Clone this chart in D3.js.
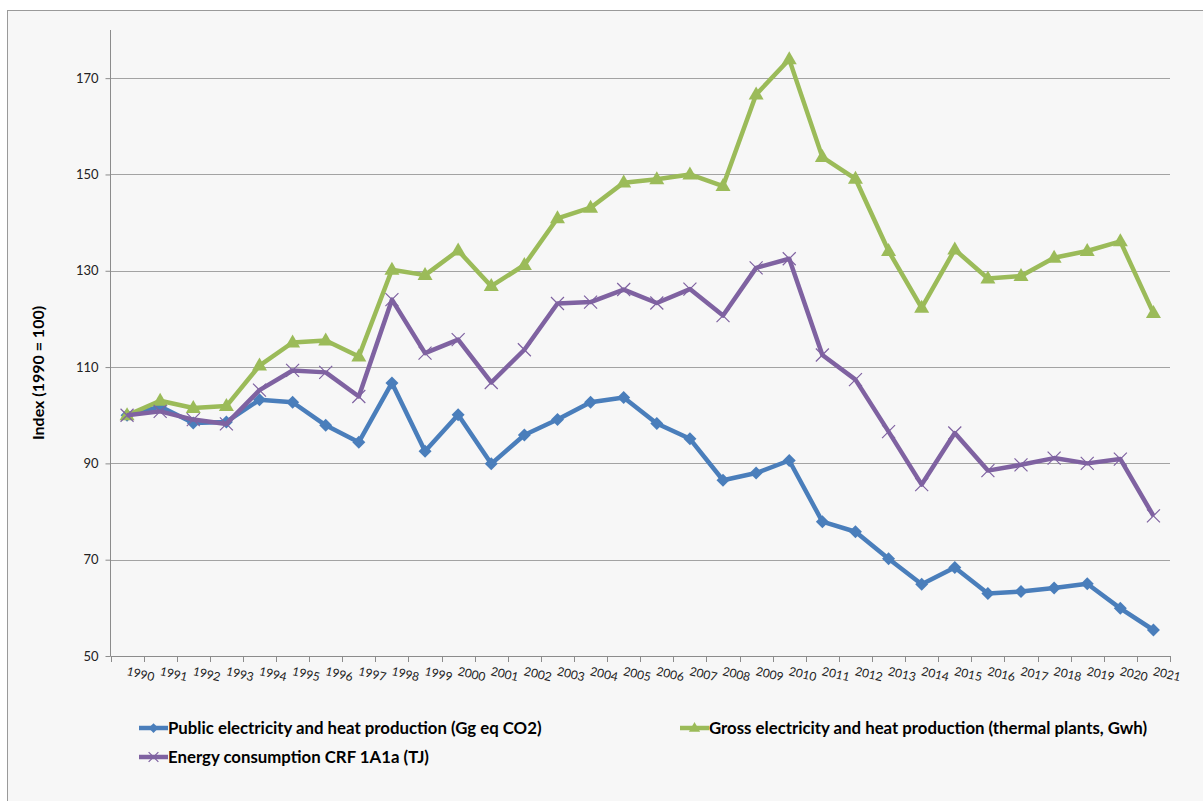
<!DOCTYPE html>
<html>
<head>
<meta charset="utf-8">
<script src="https://cdn.jsdelivr.net/npm/d3@7"></script>
<style>
  html, body { margin: 0; padding: 0; background: #ffffff; }
  svg { display: block; }
  text { font-family: Lato, "Liberation Sans", sans-serif; }
</style>
</head>
<body>
<svg id="chart" width="1203" height="801"></svg>
<script>
// Index values, 1990 = 100
const years = d3.range(1990, 2022).map(String);

const publicElectricity = [100, 101.8, 98.4, 98.6, 103.2, 102.7, 97.9, 94.4, 106.7, 92.5,
  100.1, 89.9, 95.9, 99.1, 102.7, 103.7, 98.3, 95.1, 86.5, 88.0,
  90.6, 77.9, 75.8, 70.2, 64.9, 68.4, 63.0, 63.4, 64.1, 65.0, 59.9, 55.4];

const grossProduction = [100, 103.0, 101.5, 101.9, 110.3, 115.1, 115.5, 112.2, 130.2, 129.1,
  134.2, 126.8, 131.2, 140.9, 143.1, 148.3, 149.0, 150.0, 147.6, 166.6,
  173.9, 153.6, 149.1, 134.1, 122.3, 134.4, 128.4, 128.9, 132.7, 134.1, 136.1, 121.2];

const energyConsumption = [100, 100.8, 99.1, 98.2, 105.2, 109.3, 108.9, 103.9, 124.0, 112.9,
  115.7, 106.8, 113.6, 123.2, 123.5, 126.1, 123.3, 126.2, 120.7, 130.6,
  132.5, 112.5, 107.4, 96.6, 85.6, 96.3, 88.5, 89.7, 91.1, 90.0, 90.9, 79.1];

const yTicks = [50, 70, 90, 110, 130, 150, 170];
const yTitle = "Index (1990 = 100)";

const seriesNames = [
  "Public electricity and heat production (Gg eq CO2)",
  "Gross electricity and heat production (thermal plants, Gwh)",
  "Energy consumption CRF 1A1a (TJ)"
];

const series = [
  { name: seriesNames[0], values: publicElectricity, color: "#4a7ebb", marker: "diamond" },
  { name: seriesNames[1], values: grossProduction, color: "#9bbb59", marker: "triangle" },
  { name: seriesNames[2], values: energyConsumption, color: "#7f62a1", marker: "cross" }
];

const svg = d3.select("#chart");

// chart area background and frame
svg.append("rect")
  .attr("x", 7.5).attr("y", 10.5)
  .attr("width", 1205).attr("height", 800)
  .attr("fill", "#f7f7f7")
  .attr("stroke", "#9a9a9a").attr("stroke-width", 1);

const plot = { left: 110.5, right: 1170, top: 30, bottom: 656 };

const x = d3.scaleBand().domain(years).range([plot.left, plot.right]).padding(0);
const y = d3.scaleLinear().domain([50, 180]).range([plot.bottom, plot.top]);
const cx = d => x(d) + x.bandwidth() / 2;

// horizontal gridlines
svg.append("g")
  .selectAll("line")
  .data(yTicks.filter(t => t > 50))
  .join("line")
  .attr("x1", plot.left).attr("x2", plot.right)
  .attr("y1", d => Math.round(y(d)) + 0.5).attr("y2", d => Math.round(y(d)) + 0.5)
  .attr("stroke", "#a3a3a3").attr("stroke-width", 1);

// y axis
const yAxis = svg.append("g")
  .attr("transform", `translate(${plot.left},0)`)
  .call(d3.axisLeft(y).tickValues(yTicks).tickSize(5).tickPadding(7).tickFormat(d3.format("d")));
yAxis.select(".domain").attr("stroke", "#8c8c8c").attr("d", `M-0,${plot.top}V${plot.bottom}`);
yAxis.selectAll(".tick line").attr("stroke", "#8c8c8c");
yAxis.selectAll(".tick text")
  .attr("fill", "#222").style("font-size", "13px")
  .style("font-family", "Lato, 'Liberation Sans', sans-serif");

// x axis: ticks on category boundaries
const xg = svg.append("g");
xg.append("line")
  .attr("x1", plot.left).attr("x2", plot.right)
  .attr("y1", plot.bottom + 0.5).attr("y2", plot.bottom + 0.5)
  .attr("stroke", "#8c8c8c");
const boundaries = years.map(d => x(d)).concat([plot.right]);
xg.selectAll("line.tick")
  .data(boundaries)
  .join("line")
  .attr("class", "tick")
  .attr("x1", d => Math.round(d) + 0.5).attr("x2", d => Math.round(d) + 0.5)
  .attr("y1", plot.bottom).attr("y2", plot.bottom + 6)
  .attr("stroke", "#8c8c8c");
xg.selectAll("text")
  .data(years)
  .join("text")
  .attr("transform", d => `translate(${cx(d) - 1},${plot.bottom + 19}) rotate(13)`)
  .attr("text-anchor", "start")
  .attr("fill", "#222")
  .style("font-size", "12px")
  .text(d => d);

// y axis title
svg.append("text")
  .attr("transform", `translate(44,${(plot.top + plot.bottom) / 2 + 30}) rotate(-90)`)
  .attr("text-anchor", "middle")
  .attr("fill", "#000")
  .style("font-size", "16px").style("font-weight", "bold")
  .text(yTitle);

// marker shapes
function drawMarker(g, type, color, px, py, scale) {
  const s = scale || 1;
  if (type === "diamond") {
    const r = 6.5 * s;
    g.append("path")
      .attr("d", `M${px},${py - r}L${px + r},${py}L${px},${py + r}L${px - r},${py}Z`)
      .attr("fill", color);
  } else if (type === "triangle") {
    const h = 13 * s, w = 15 * s;
    g.append("path")
      .attr("d", `M${px},${py - h * 0.62}L${px + w / 2},${py + h * 0.38}L${px - w / 2},${py + h * 0.38}Z`)
      .attr("fill", color);
  } else {
    const r = 6.5 * s;
    g.append("path")
      .attr("d", `M${px - r},${py - r}L${px + r},${py + r}M${px + r},${py - r}L${px - r},${py + r}`)
      .attr("stroke", color).attr("stroke-width", 1.2).attr("fill", "none");
  }
}

const line = d3.line().x((d, i) => cx(years[i])).y(d => y(d));

series.forEach(s => {
  const g = svg.append("g");
  g.append("path")
    .datum(s.values)
    .attr("d", line)
    .attr("fill", "none")
    .attr("stroke", s.color)
    .attr("stroke-width", 4.5)
    .attr("stroke-linejoin", "round");
  s.values.forEach((v, i) => drawMarker(g, s.marker, s.color, cx(years[i]), y(v)));
});

// legend
const legendItems = [
  { s: series[0], lx: 139, ly: 728 },
  { s: series[1], lx: 680, ly: 728 },
  { s: series[2], lx: 139, ly: 757 }
];
legendItems.forEach(it => {
  const g = svg.append("g");
  g.append("line")
    .attr("x1", it.lx).attr("x2", it.lx + 29)
    .attr("y1", it.ly).attr("y2", it.ly)
    .attr("stroke", it.s.color).attr("stroke-width", 4.5);
  drawMarker(g, it.s.marker, it.s.color, it.lx + 14.5, it.ly, 0.75);
  g.append("text")
    .attr("x", it.lx + 29).attr("y", it.ly + 6)
    .attr("fill", "#000")
    .style("font-size", "16.8px").style("font-weight", "bold")
    .text(it.s.name);
});
</script>
</body>
</html>
